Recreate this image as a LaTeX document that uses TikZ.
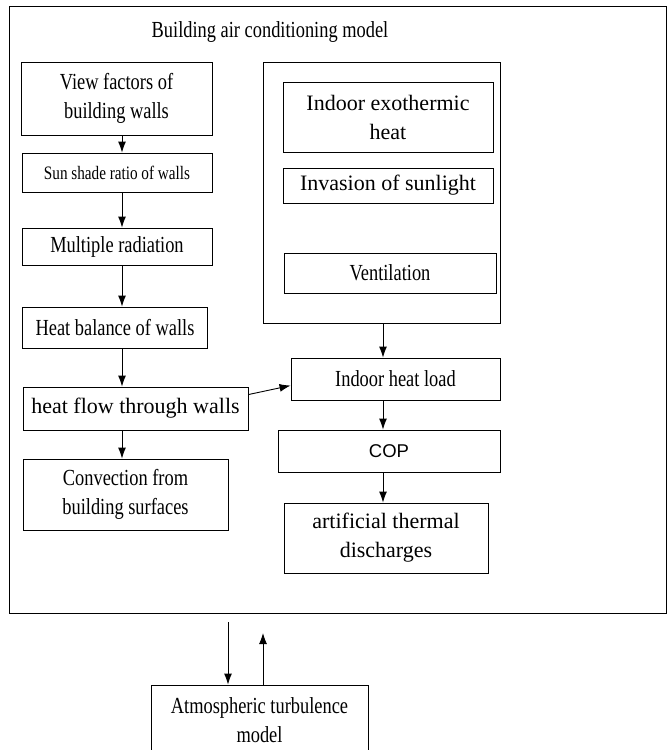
\documentclass[tikz,border=0pt]{standalone}
\usepackage{fontspec}
\setmainfont{Liberation Serif}
\newfontfamily\narrowrm[FakeStretch=0.8]{Liberation Serif}
\newfontfamily\widerm{Liberation Serif}
\newfontfamily\plainsf{Liberation Sans}
\usetikzlibrary{arrows.meta, positioning}

\tikzset{
    box/.style={draw, line width=0.9pt, inner sep=0pt, align=center},
    tbox/.style={box, font=\narrowrm\fontsize{23}{29}\selectfont},
    cbox/.style={box, font=\widerm\fontsize{22}{29}\selectfont},
    arr/.style={line width=0.9pt, -{Latex[length=11pt,width=8pt]}}
}

\begin{document}
\begin{tikzpicture}[x=1pt,y=-1pt]
        \useasboundingbox (0,0) rectangle (668,750);

        % outer model frame
        \draw[line width=0.9pt] (9,6) rectangle (666,613);
        \node[font=\narrowrm\fontsize{23}{29}\selectfont] (title) at (270,32) {Building air conditioning model};

        \coordinate (lcol) at (122,0);
        \coordinate (rcol) at (383,0);

        % left column
        \node[tbox, minimum width=191, minimum height=73] (view) at (116.5,98.5) {View factors of\\building walls};
        \node[box, font=\narrowrm\fontsize{19}{23}\selectfont, minimum width=190, minimum height=39] (shade) at (117,172.5) {Sun shade ratio of walls};
        \node[tbox, minimum width=190, minimum height=37] (multi) at (117,246.5) {Multiple radiation};
        \node[tbox, minimum width=185, minimum height=41] (balance) at (115,327.5) {Heat balance of walls};
        \node[cbox, minimum width=225, minimum height=43] (hflow) at (135.5,408.5) {heat flow through walls};
        \node[tbox, minimum width=205, minimum height=71] (conv) at (125.5,494.5) {Convection from\\building surfaces};

        % right column
        \draw[line width=0.9pt] (263,62) rectangle (500,323);
        \coordinate (group) at (383,323);
        \node[cbox, minimum width=210, minimum height=70] (exo) at (388,117) {Indoor exothermic\\heat};
        \node[cbox, minimum width=210, minimum height=35] (sun) at (388,185.5) {Invasion of sunlight};
        \node[tbox, minimum width=212, minimum height=40] (vent) at (390,273) {Ventilation};
        \node[tbox, minimum width=209, minimum height=42] (hload) at (395.5,379) {Indoor heat load};
        \node[box, font=\plainsf\fontsize{18.5}{22}\selectfont, minimum width=222, minimum height=42] (cop) at (389,451) {COP};
        \node[cbox, minimum width=204, minimum height=70] (disch) at (386,538) {artificial thermal\\discharges};

        % atmosphere
        \node[tbox, minimum width=217, minimum height=70] (atm) at (259.5,720) {Atmospheric turbulence\\model};
        \coordinate (down) at (228,622);
        \coordinate (up) at (263,633);

        \draw[arr] (view.south -| lcol) -- (shade.north -| lcol);
        \draw[arr] (shade.south -| lcol) -- (multi.north -| lcol);
        \draw[arr] (multi.south -| lcol) -- (balance.north -| lcol);
        \draw[arr] (balance.south -| lcol) -- (hflow.north -| lcol);
        \draw[arr] (hflow.south -| lcol) -- (conv.north -| lcol);

        \draw[arr] (group) -- (hload.north -| rcol);
        \draw[arr] (hload.south -| rcol) -- (cop.north -| rcol);
        \draw[arr] (cop.south -| rcol) -- (disch.north -| rcol);
        \draw[arr] ([yshift=-8pt]hflow.north east) -- ([yshift=-28pt]hload.north west);

        \draw[arr] (down) -- (atm.north -| down);
        \draw[arr] (atm.north -| up) -- (up);
    \end{tikzpicture}
\end{document}
